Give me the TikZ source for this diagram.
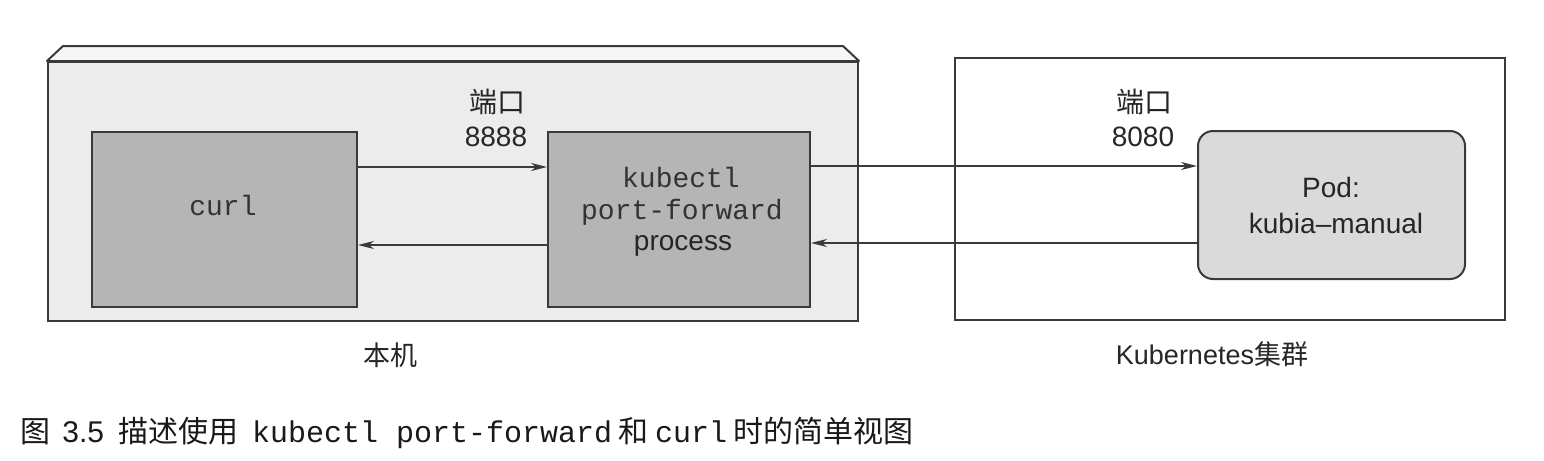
\documentclass[tikz,border=0pt]{standalone}
\usepackage{fontspec}
\setmainfont{Liberation Sans}
\setmonofont{Liberation Mono}
\newfontfamily\cjk{Noto Sans CJK SC}
\usetikzlibrary{arrows.meta,calc}
\definecolor{edge}{HTML}{3A3A3A}
\definecolor{hostfill}{HTML}{ECECEC}
\definecolor{hosttop}{HTML}{F6F6F6}
\definecolor{procfill}{HTML}{B5B5B5}
\definecolor{podfill}{HTML}{DADADA}
\begin{document}
\begin{tikzpicture}[x=0.5pt,y=-0.5pt,
  box/.style={draw=edge,line width=1pt,inner sep=0pt},
  proc/.style={box,fill=procfill,minimum height=87.5pt},
  arr/.style={draw=edge,line width=0.8pt,-{Stealth[length=8pt,width=4pt,inset=2.5pt]}},
  lbl/.style={font=\fontsize{14}{16}\selectfont,inner sep=0pt,text=black!85},
  tt/.style={font=\fontsize{14}{16}\selectfont\ttfamily,inner sep=0pt,text=black!80},
  bottomlbl/.style={font=\fontsize{13.5}{16}\selectfont,inner sep=0pt,text=black!85},
  captiontext/.style={font=\fontsize{15}{18}\selectfont,inner sep=0pt,text=black!90}]
\useasboundingbox (0,0) rectangle (1544,461);
\fill[white] (0,0) rectangle (1544,461);

% local machine (3D box)
\node[box,fill=hostfill,minimum width=405pt,minimum height=129.5pt] (host) at (453,191.5) {};
\filldraw[fill=hosttop,draw=edge,line width=1pt,line join=round]
  (host.north west) -- ++(16,-15) -- ($(host.north east)+(-16,-15)$) -- (host.north east) -- cycle;

% kubernetes cluster
\node[box,fill=white,minimum width=275pt,minimum height=131pt] (k8s) at (1230,189) {};

% processes
\node[proc,minimum width=132.5pt] (curl) at (224.5,219.5) {};
\node[proc,minimum width=131pt] (kub) at (679,219.5) {};
\node[box,fill=podfill,minimum width=133.5pt,minimum height=74pt,rounded corners=7.5pt] (pod) at (1331.5,205) {};

% texts in boxes
\node[tt,anchor=base] (tcurl) at (223,215) {curl};
\node[tt,anchor=base] (tkub1) at (681,187) {kubectl};
\node[tt,anchor=base] (tkub2) at (682,219) {port-forward};
\node[lbl,anchor=base] (tkub3) at (683,250) {process};
\node[lbl,anchor=base] (tpod1) at (1331,197) {Pod:};
\node[lbl,anchor=base] (tpod2) at (1336,233) {kubia--manual};

% port labels
\node[lbl] (p1a) at (497.5,102) {\cjk 端口};
\node[lbl] (p1b) at (496,137) {8888};
\node[lbl] (p2a) at (1144,102) {\cjk 端口};
\node[lbl] (p2b) at (1143,137) {8080};

% connectors
\draw[arr] ([yshift=26.25pt]curl.east) -- ([yshift=26.25pt]curl.east -| kub.west);
\draw[arr] ([yshift=-12.75pt]curl.east -| kub.west) -- ([yshift=-12.75pt]curl.east);
\draw[arr] ([yshift=26.75pt]kub.east) -- ([yshift=26.75pt]kub.east -| pod.west);
\draw[arr] ([yshift=-11.75pt]kub.east -| pod.west) -- ([yshift=-11.75pt]kub.east);

% bottom labels
\node[bottomlbl] (lhost) at (390,355) {\cjk 本机};
\node[bottomlbl] (lk8s) at (1212,354) {Kubernetes{\cjk 集群}};

% caption
\node[captiontext,anchor=base west] (caption) at (20,442) {{\cjk 图}\hspace{6pt}3.5\hspace{7pt}{\cjk 描述使用}\hspace{7pt}{\ttfamily kubectl port-forward}\hspace{3pt}{\cjk 和}\hspace{3.5pt}{\ttfamily curl}\hspace{3pt}{\cjk 时的简单视图}};
\end{tikzpicture}
\end{document}
